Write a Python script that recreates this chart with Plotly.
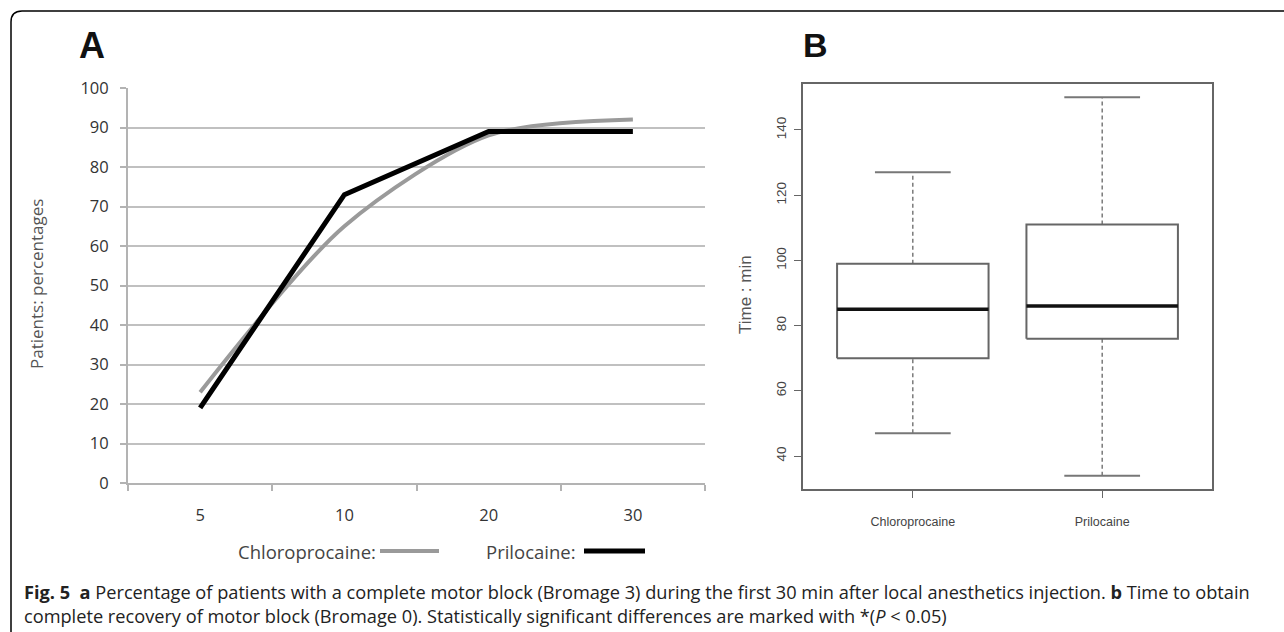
import plotly.graph_objects as go

# ---- Panel A data ----
time_points = ["5", "10", "20", "30"]
chloroprocaine_pct = [23, 65, 88, 92]
prilocaine_pct = [19, 73, 89, 89]
a_yticks = [0, 10, 20, 30, 40, 50, 60, 70, 80, 90, 100]

# ---- Panel B data (boxplot summary) ----
box_groups = ["Chloroprocaine", "Prilocaine"]
box_q1 = [70, 76]
box_median = [85, 86]
box_q3 = [99, 111]
box_low = [47, 34]
box_high = [127, 150]
b_yticks = [40, 60, 80, 100, 120, 140]

W, H = 1284, 632
def px(x):
    return x / W
def py(y):
    return 1 - y / H

fig = go.Figure()

# Panel A lines
fig.add_trace(go.Scatter(x=time_points, y=chloroprocaine_pct, mode="lines",
                         line=dict(color="#9a9a9a", width=4, shape="spline", smoothing=0.8),
                         xaxis="x", yaxis="y", showlegend=False, hoverinfo="skip"))
fig.add_trace(go.Scatter(x=time_points, y=prilocaine_pct, mode="lines",
                         line=dict(color="#000000", width=5),
                         xaxis="x", yaxis="y", showlegend=False, hoverinfo="skip"))

# Panel B boxes (R style)
bw = 0.4
cw = 0.2
for i, g in enumerate(box_groups):
    c = i + 1
    fig.add_trace(go.Scatter(x=[c, c], y=[box_q3[i], box_high[i]], mode="lines",
                             line=dict(color="#666666", width=1.3, dash="4px,3px"),
                             xaxis="x2", yaxis="y2", showlegend=False, hoverinfo="skip"))
    fig.add_trace(go.Scatter(x=[c, c], y=[box_low[i], box_q1[i]], mode="lines",
                             line=dict(color="#666666", width=1.3, dash="4px,3px"),
                             xaxis="x2", yaxis="y2", showlegend=False, hoverinfo="skip"))
    for v in (box_low[i], box_high[i]):
        fig.add_trace(go.Scatter(x=[c - cw, c + cw], y=[v, v], mode="lines",
                                 line=dict(color="#777777", width=2),
                                 xaxis="x2", yaxis="y2", showlegend=False, hoverinfo="skip"))
    fig.add_trace(go.Scatter(x=[c - bw, c + bw, c + bw, c - bw, c - bw],
                             y=[box_q1[i], box_q1[i], box_q3[i], box_q3[i], box_q1[i]],
                             mode="lines", line=dict(color="#666666", width=2),
                             xaxis="x2", yaxis="y2", showlegend=False, hoverinfo="skip"))
    fig.add_trace(go.Scatter(x=[c - bw, c + bw], y=[box_median[i], box_median[i]], mode="lines",
                             line=dict(color="#111111", width=3.5),
                             xaxis="x2", yaxis="y2", showlegend=False, hoverinfo="skip"))

axis_gray = "#b3b3b3"
fig.update_layout(
    width=W, height=H,
    margin=dict(l=0, r=0, t=0, b=0, pad=0, autoexpand=False),
    paper_bgcolor="white", plot_bgcolor="white",
    xaxis=dict(domain=[px(128), px(705)], type="category", range=[-0.5, 3.5],
               showline=True, linecolor=axis_gray, linewidth=2,
               ticks="outside", ticklen=6, tickcolor=axis_gray, tickwidth=1.5,
               tickson="boundaries", showgrid=False, ticklabelstandoff=16,
               tickfont=dict(family="Open Sans", size=16.5, color="#333333"),
               anchor="y", fixedrange=True, automargin=False),
    yaxis=dict(domain=[py(483), py(88)], range=[0, 100], tickvals=a_yticks,
               showline=True, linecolor=axis_gray, linewidth=2,
               ticks="outside", ticklen=6, tickcolor=axis_gray, tickwidth=1.5,
               showgrid=True, gridcolor="#c0c0c0", gridwidth=2, zeroline=False,
               ticklabelstandoff=8,
               tickfont=dict(family="Open Sans", size=16.5, color="#333333"),
               anchor="x", fixedrange=True, automargin=False),
    xaxis2=dict(domain=[px(803), px(1212)], range=[0.42, 2.58],
                tickvals=[1, 2], ticktext=box_groups,
                showline=True, mirror=True, linecolor="#666666", linewidth=1.5,
                ticks="outside", ticklen=7, tickcolor="#666666", tickwidth=1.2,
                showgrid=False, zeroline=False, ticklabelstandoff=13,
                tickfont=dict(family="Liberation Sans", size=12.5, color="#444444"),
                anchor="y2", fixedrange=True, automargin=False),
    yaxis2=dict(domain=[py(489), py(84)], range=[29.9, 154.1], tickvals=b_yticks,
                showline=True, mirror=True, linecolor="#666666", linewidth=1.5,
                ticks="outside", ticklen=7, tickcolor="#666666", tickwidth=1.2,
                showgrid=False, zeroline=False, tickangle=-90, ticklabelstandoff=3,
                tickfont=dict(family="Liberation Sans", size=13.5, color="#444444"),
                anchor="x2", fixedrange=True, automargin=False),
    showlegend=False,
)

def txt(x, y, text, size, family="Open Sans", color="#444444", xanchor="center", angle=0, align="center"):
    return dict(x=px(x), y=py(y), xref="paper", yref="paper", text=text, textangle=angle,
                xanchor=xanchor, yanchor="middle", showarrow=False, align=align,
                font=dict(family=family, size=size, color=color))

ann = [
    txt(37, 284, "Patients: percentages", 17, color="#555555", angle=-90),
    txt(745, 295, "Time : min", 17, family="Liberation Sans", color="#555555", angle=-90),
    txt(77, 46, "<b>A</b>", 36, family="Liberation Sans", color="#111111", xanchor="left"),
    txt(801, 45, "<b>B</b>", 34, family="Liberation Sans", color="#111111", xanchor="left"),
    txt(236, 551, "Chloroprocaine:", 18.5, xanchor="left"),
    txt(484, 551, "Prilocaine:", 18.5, xanchor="left"),
]
caption = ("<b>Fig. 5</b>  <b>a</b> Percentage of patients with a complete motor block (Bromage 3) during the first 30 min "
           "after local anesthetics injection. <b>b</b> Time to obtain<br>"
           "complete recovery of motor block (Bromage 0). Statistically significant differences are marked with *(<i>P</i> < 0.05)")
ann.append(txt(22, 604, caption, 18.2, color="#222222", xanchor="left", align="left"))
fig.update_layout(annotations=ann)

shapes = [
    dict(type="line", xref="paper", yref="paper", x0=px(380), x1=px(439), y0=py(551), y1=py(551),
         line=dict(color="#9a9a9a", width=4)),
    dict(type="line", xref="paper", yref="paper", x0=px(584), x1=px(645), y0=py(551), y1=py(551),
         line=dict(color="#000000", width=5)),
    dict(type="path", xref="paper", yref="paper",
         path=f"M {px(11)},{py(640)} L {px(11)},{py(22)} Q {px(11)},{py(11)} {px(22)},{py(11)} L {px(1290)},{py(11)}",
         line=dict(color="#000000", width=1.5)),
]
fig.update_layout(shapes=shapes)

fig.write_html("out.html")
